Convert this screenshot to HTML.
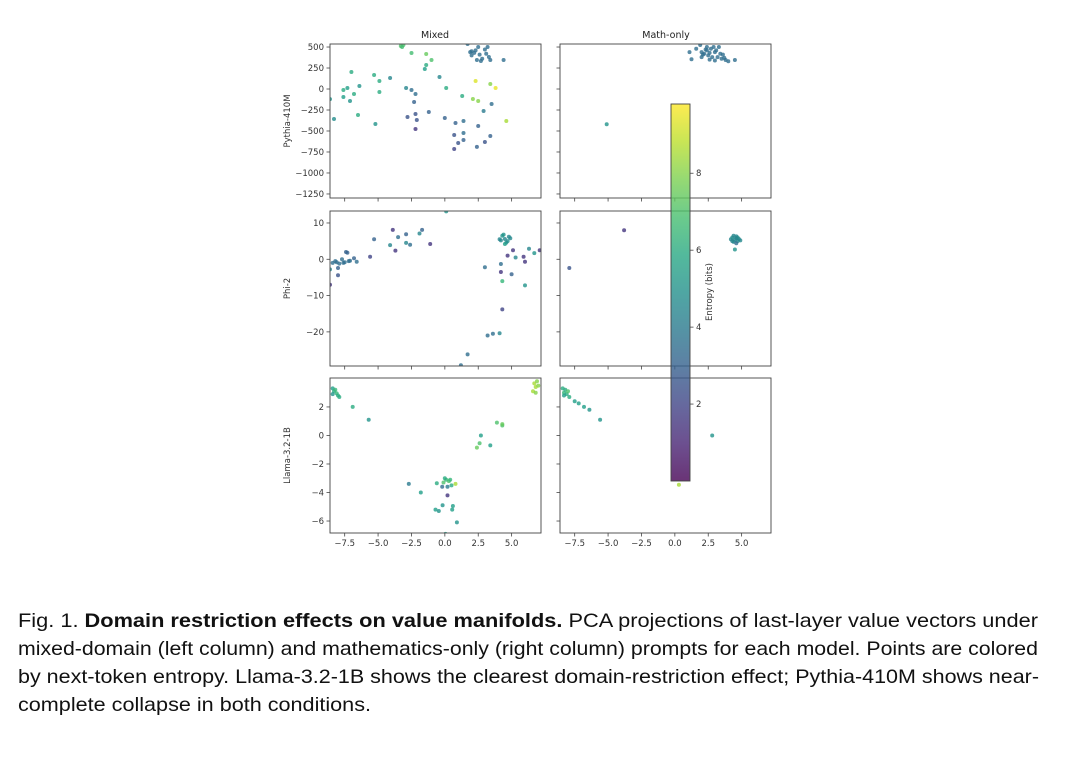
<!DOCTYPE html>
<html><head><meta charset="utf-8">
<style>
html,body{margin:0;padding:0;background:#fff;}
body{width:1080px;height:766px;overflow:hidden;position:relative;}
svg{position:absolute;left:0;top:0;}
text{font-family:"DejaVu Sans","Liberation Sans",sans-serif;}
</style></head>
<body>
<svg id="fig" width="1080" height="766"></svg>
<script>
// ---- data (x, y, entropy) ----
const pythiaMixedX=[-8.6,-8.3,-7.6,-7.6,-7.3,-7.0,-7.1,-6.8,-6.5,-6.4,-5.3,-5.2,-4.9,-4.9,-4.1,-3.3,-3.1,-3.2,-2.5,-1.4,-1.4,-1.5,-1.0,-2.9,-2.5,-2.2,-2.3,-2.8,-2.2,-2.1,-2.2,-1.2,-0.4,0.1,0.0,0.8,0.7,1.0,0.7,1.4,1.4,1.4,1.3,2.3,2.1,2.5,2.5,2.4,2.9,3.0,3.4,3.5,3.4,3.8,4.6,4.4,1.7,1.9,2.2,2.0,2.3,2.4,2.5,2.7,3.0,3.1,3.2,3.3,3.4,2.0,2.8,2.6];
const pythiaMixedY=[-120,-357,-12,-95,12,202,-143,-60,-310,36,167,-417,95,-36,131,512,524,500,429,417,286,238,345,12,-12,-60,-155,-333,-298,-369,-476,-274,143,12,-345,-405,-548,-643,-714,-381,-524,-607,-83,95,-119,-143,-440,-690,-262,-631,-560,-179,60,12,-381,345,536,440,430,400,460,345,500,333,470,420,500,381,345,450,360,410];
const pythiaMixedE=[5,4.8,6,5.5,5.5,6,5,6,6,5,6,5,6,6,4.5,7,7,6.8,6.8,7.5,6,5.5,7,4.5,3.5,3.5,3,2.5,2.5,2.5,1.5,3,4.5,6,3,3,2.5,2.5,2,3.5,3.5,3,6,9.3,8,8,3,3,4,2.5,3,3.5,8,9.5,8.5,3.5,3.5,3.5,3.5,3.5,3.5,3.5,3.5,3.5,3.5,3.5,3.5,3.5,3.5,3.5,3.5,3.5];
const pythiaMathX=[-5.1,1.1,1.25,1.9,2.0,2.2,2.4,2.5,2.7,2.9,3.0,3.2,3.3,3.5,3.6,3.8,4.0,4.5,2.1,2.3,2.6,2.8,3.1,3.4,2.0,2.6,3.0,1.6,2.4,3.7];
const pythiaMathY=[-420,440,354,524,440,420,460,400,480,500,440,380,500,360,410,345,330,345,410,470,430,380,460,420,380,350,340,480,500,370];
const pythiaMathE=[5,3.5,3.5,3.5,3.5,3.5,3.5,3.5,3.5,3.5,3.5,3.5,3.5,3.5,3.5,3.5,3.5,3.5,3.5,3.5,3.5,3.5,3.5,3.5,3.5,3.5,3.5,3.5,3.5,3.5];
const phiMixedX=[-8.6,-8.6,-8.4,-8.2,-8.1,-7.9,-7.7,-7.6,-7.5,-7.2,-7.1,-7.4,-7.3,-6.8,-6.6,-8.0,-8.0,-5.6,-5.3,-3.9,-4.1,-3.7,-3.5,-2.9,-2.9,-2.6,-1.9,-1.7,-1.1,0.1,1.2,1.7,3.0,3.2,3.6,4.1,4.2,4.2,4.3,4.3,4.7,5.0,5.1,5.3,5.9,6.0,6.0,6.3,6.7,7.1,4.5,4.3,4.6,4.8,4.2,4.4,4.7,4.5,4.9,4.1];
const phiMixedY=[-2.8,-7,-1,-0.5,-0.8,-1.2,0,-1,-0.8,-0.5,-0.4,2,1.8,0.3,-0.7,-2.4,-4.4,0.7,5.5,8.1,3.9,2.4,6.1,6.9,4.5,4,7.1,8.1,4.2,13.2,-29.2,-26.2,-2.2,-21,-20.5,-20.4,-1.3,-3.5,-6,-13.8,1,-4.1,2.5,0.5,0.7,-0.7,-7.2,2.9,1.7,2.5,5.6,6.5,4.6,6.2,5.2,6.8,5.0,4.2,5.8,5.5];
const phiMixedE=[4.5,1.5,3.5,3.5,3.5,3.5,3.5,3.5,3.5,3.5,3.5,3,3,3,3.5,3,2.5,2,3,1.5,4.5,1.5,3.5,3,4.5,3.5,4.5,3,1.5,5,3.5,3.5,3.5,3.5,3.5,4.5,3.5,1.5,6.5,2,1.5,3,1.5,4.5,1.5,1.5,5,4.5,5,1.5,4.5,5,4.8,4.5,4.5,5,4.8,5.5,4.6,4.5];
const phiMathX=[-7.9,-3.8,4.5,4.2,4.3,4.4,4.6,4.7,4.8,4.9,4.4,4.6,4.5,4.3,4.7,4.6];
const phiMathY=[-2.4,8.0,5.4,5.5,6.0,4.8,6.3,5.0,5.6,5.2,6.5,4.4,2.7,5.0,6.0,5.8];
const phiMathE=[2.5,1.5,4.5,4.5,4.8,4.5,4.5,4.7,4.5,4.6,4.5,3.5,5,4.5,4.8,4.5];
const llamaMixedX=[-8.4,-8.3,-8.2,-8.1,-8.4,-8.0,-7.9,-6.9,-5.7,-2.7,-1.8,-0.6,-0.7,-0.45,-0.17,0.2,-0.2,0.9,0.05,0.55,0.6,0.1,-0.1,0.3,0.5,0.8,0.2,0.0,0.4,2.4,2.6,2.7,3.4,3.9,4.3,4.3,6.7,6.8,6.9,6.6,7.0,6.8];
const llamaMixedY=[3.3,3.1,3.2,2.95,2.9,2.8,2.7,2.0,1.1,-3.4,-4.0,-3.35,-5.2,-5.3,-4.9,-4.2,-3.6,-6.1,-6.9,-5.2,-4.95,-3.1,-3.3,-3.2,-3.5,-3.4,-3.6,-3.0,-3.1,-0.85,-0.55,0,-0.7,0.9,0.7,0.8,3.65,3.4,3.8,3.1,3.5,3.0];
const llamaMixedE=[5.5,6,6.5,6.5,5,6,6,6,5,4,5.5,6,5.5,5,5,1.5,3.5,5,5.5,5.5,5.5,6.5,7,7,6,8.5,4,6,6.5,7.5,7,5.5,5.5,7,7,7.5,8.5,8.5,8,8.5,8,8];
const llamaMathX=[-8.4,-8.3,-8.2,-8.1,-8.0,-8.3,-7.9,-7.5,-7.2,-6.8,-6.4,-5.6,2.8,0.3];
const llamaMathY=[3.3,3.0,3.2,2.9,3.1,2.8,2.7,2.4,2.25,2.0,1.8,1.1,0,-3.45];
const llamaMathE=[6,6.5,6,6,7,5.5,6,5.5,5.5,5.5,5,5,5,8.5];
// axis ticks
const xTicks=[-7.5,-5.0,-2.5,0.0,2.5,5.0];
const xTickLabels=["\u22127.5","\u22125.0","\u22122.5","0.0","2.5","5.0"];
const pythiaTicks=[500,250,0,-250,-500,-750,-1000,-1250];
const phiTicks=[10,0,-10,-20];
const llamaTicks=[2,0,-2,-4,-6];
const cbarTicks=[2,4,6,8];

const NS="http://www.w3.org/2000/svg";
const svg=document.getElementById('fig');
function mk(tag,attrs,parent){const e=document.createElementNS(NS,tag);for(const k in attrs)e.setAttribute(k,attrs[k]);(parent||svg).appendChild(e);return e;}
function fmt(v){return v<0?"\u2212"+(-v):String(v);}
// viridis
const vs=[[68,1,84],[72,40,120],[62,74,137],[49,104,142],[38,130,142],[31,158,137],[53,183,121],[109,205,89],[180,222,44],[253,231,37]];
function viridis(t){t=Math.max(0,Math.min(1,t));const f=t*(vs.length-1);const i=Math.min(vs.length-2,Math.floor(f));const r=f-i;const c=vs[i].map((a,k)=>Math.round(a+(vs[i+1][k]-a)*r));return `rgb(${c[0]},${c[1]},${c[2]})`;}
const EMIN=0,EMAX=9.8;
const XMIN=-8.6,XMAX=7.2;
const cols=[{x0:330,x1:541},{x0:560,x1:771}];
const rows=[{y0:44,y1:198,ymin:-1298,ymax:536,ticks:pythiaTicks,label:"Pythia-410M",
  sets:[[pythiaMixedX,pythiaMixedY,pythiaMixedE],[pythiaMathX,pythiaMathY,pythiaMathE]]},
 {y0:211,y1:366,ymin:-29.4,ymax:13.3,ticks:phiTicks,label:"Phi-2",
  sets:[[phiMixedX,phiMixedY,phiMixedE],[phiMathX,phiMathY,phiMathE]]},
 {y0:378,y1:533,ymin:-6.84,ymax:4.03,ticks:llamaTicks,label:"Llama-3.2-1B",
  sets:[[llamaMixedX,llamaMixedY,llamaMixedE],[llamaMathX,llamaMathY,llamaMathE]]}];
const names=["pythia","phi","llama"],cnames=["mixed","math"];
rows.forEach((r,ri)=>{
  cols.forEach((c,ci)=>{
    const sx=v=>c.x0+(v-XMIN)/(XMAX-XMIN)*(c.x1-c.x0);
    const sy=v=>r.y1-(v-r.ymin)/(r.ymax-r.ymin)*(r.y1-r.y0);
    const g=mk('g',{});
    
    
    const clipId=`clip${ri}${ci}`;
    const cp=mk('clipPath',{id:clipId},g);mk('rect',{x:c.x0,y:r.y0,width:c.x1-c.x0,height:r.y1-r.y0},cp);
    const pts=mk('g',{'clip-path':`url(#${clipId})`},g);
    const [X,Y,E]=r.sets[ci];
    for(let i=0;i<X.length;i++){
      const p=mk('circle',{cx:sx(X[i]).toFixed(1),cy:sy(Y[i]).toFixed(1),r:2,fill:viridis((E[i]-EMIN)/(EMAX-EMIN)),'fill-opacity':0.8},pts);
      
      
    }
    mk('rect',{x:c.x0,y:r.y0,width:c.x1-c.x0,height:r.y1-r.y0,fill:'none',stroke:'#444','stroke-width':0.9},g);
    xTicks.forEach((t,k)=>{const x=sx(t);mk('line',{x1:x,x2:x,y1:r.y1,y2:r.y1+3.5,stroke:'#444','stroke-width':0.8},g);
      if(ri===2){const tl=mk('text',{x:x,y:r.y1+13,'font-size':8.5,'text-anchor':'middle',fill:'#333'},g);tl.textContent=xTickLabels[k];
        }});
    r.ticks.forEach(t=>{const y=sy(t);mk('line',{x1:c.x0-3.5,x2:c.x0,y1:y,y2:y,stroke:'#444','stroke-width':0.8},g);
      if(ci===0){const tl=mk('text',{x:c.x0-6,y:y+3,'font-size':8.5,'text-anchor':'end',fill:'#333'},g);tl.textContent=fmt(t);
        }});
  });
  const yl=mk('text',{x:0,y:0,'font-size':8.5,'text-anchor':'middle',fill:'#333',transform:`translate(290,${(r.y0+r.y1)/2}) rotate(-90)`});
  yl.textContent=r.label;
  
  
});
[["Mixed",435],["Math-only",666]].forEach(([t,x])=>{const e=mk('text',{x:x,y:38,'font-size':9.5,'text-anchor':'middle',fill:'#222'});e.textContent=t;
  });
// colorbar
const CB={x:671,w:19,top:104,bot:481};
const defs=mk('defs',{});const lg=mk('linearGradient',{id:'vg',x1:0,y1:1,x2:0,y2:0},defs);
for(let i=0;i<=10;i++)mk('stop',{offset:i/10,'stop-color':viridis(i/10)},lg);
const cbg=mk('g',{});


mk('rect',{x:CB.x,y:CB.top,width:CB.w,height:CB.bot-CB.top,fill:'url(#vg)','fill-opacity':0.8,stroke:'#444','stroke-width':0.9},cbg);
const cy=v=>CB.bot-(v-EMIN)/(EMAX-EMIN)*(CB.bot-CB.top);
cbarTicks.forEach(t=>{const y=cy(t);mk('line',{x1:CB.x+CB.w,x2:CB.x+CB.w+3.5,y1:y,y2:y,stroke:'#444','stroke-width':0.8},cbg);
  const e=mk('text',{x:CB.x+CB.w+6,y:y+3,'font-size':8.5,fill:'#333'},cbg);e.textContent=String(t);
  });
const cl=mk('text',{x:0,y:0,'font-size':8.5,'text-anchor':'middle',fill:'#333',transform:'translate(712,292) rotate(-90)'},cbg);
cl.textContent="Entropy (bits)";


// caption
const cap=[
 [["Fig. 1.  ",false],["Domain restriction effects on value manifolds.",true],[" PCA projections of last-layer value vectors under",false]],
 [["mixed-domain (left column) and mathematics-only (right column) prompts for each model. Points are colored",false]],
 [["by next-token entropy. Llama-3.2-1B shows the clearest domain-restriction effect; Pythia-410M shows near-",false]],
 [["complete collapse in both conditions.",false]]];
const capLens=[1020,1020,1021,353];
const capG=mk('g',{});


cap.forEach((line,i)=>{const t=mk('text',{x:18,y:627+i*28,'font-size':19.5,fill:'#111',textLength:capLens[i],lengthAdjust:'spacingAndGlyphs',style:'font-family:"Liberation Sans",sans-serif'},capG);
  line.forEach(([s,b])=>{const sp=mk('tspan',b?{'font-weight':'bold'}:{},t);sp.textContent=s;});});
</script>
</body></html>
